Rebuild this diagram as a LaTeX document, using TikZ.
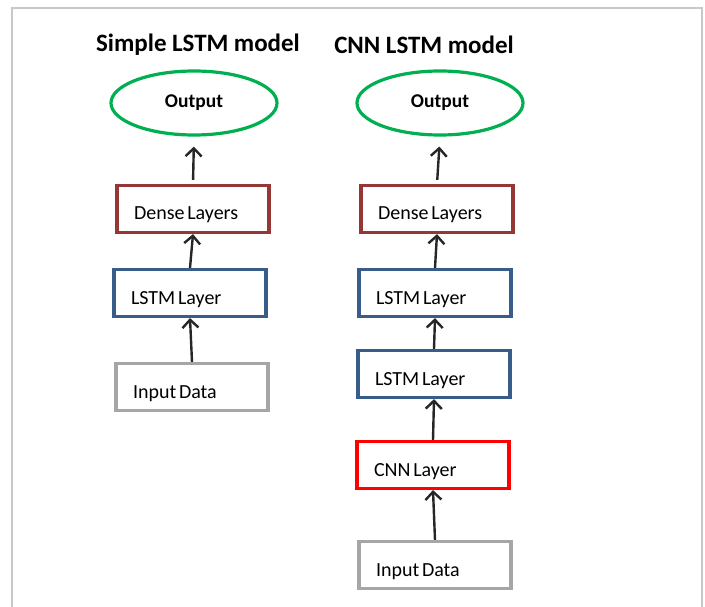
\documentclass[tikz,border=0pt]{standalone}
\usepackage{fontspec}
\setmainfont{Carlito}
\usetikzlibrary{arrows.meta,shapes.geometric}
\definecolor{outgreen}{RGB}{0,176,80}
\definecolor{densered}{RGB}{149,55,53}
\definecolor{lstmblue}{RGB}{56,93,138}
\definecolor{cnnred}{RGB}{255,0,0}
\definecolor{ingray}{RGB}{166,166,166}
\definecolor{arrgray}{RGB}{38,38,38}
\definecolor{framegray}{RGB}{200,200,200}
\newcommand\tightsp{\spaceskip 0.14em\relax}
\newcommand\titlesp{\spaceskip 0.22em\relax}
\tikzset{
  layerbox/.style={draw, line width=3.2pt, rectangle, minimum width=152pt, minimum height=47pt,
    text width=118pt, inner xsep=17pt, align=left, text height=22pt, text depth=0pt,
    font={\fontsize{20}{22}\selectfont}, execute at begin node={\tightsp}},
  outbox/.style={draw=outgreen, line width=3.2pt, ellipse, minimum width=166pt, minimum height=64pt,
    font={\bfseries\fontsize{19.5}{22}\selectfont}},
  titletext/.style={font={\bfseries\fontsize{25}{28}\selectfont\titlesp}},
  arr/.style={draw=arrgray, line width=2.4pt, -{Straight Barb[length=8pt,width=16pt,line width=2.4pt]}}
}
\begin{document}
\begin{tikzpicture}[x=1pt,y=-1pt]
			%%%%% START %%%%%
			\useasboundingbox (0,0) rectangle (705,607);
			\draw[framegray, line width=1.5pt] (12,607) -- (12,8) -- (702,8) -- (702,607);
			
			% simple LSTM model
			\node[titletext] (titleA) at (198,45) {Simple LSTM model};
			\node[outbox] (outA) at (194,103) {Output};
			\node[layerbox, draw=densered] (denseA) at (193,209) {Dense Layers};
			\node[layerbox, draw=lstmblue] (lstmA) at (190,293) {LSTM Layer};
			\node[layerbox, draw=ingray] (inA) at (192,387) {Input Data};
			
			\draw[arr, shorten >=10pt, shorten <=4pt] (denseA.north) -- (outA.south);
			\draw[arr] (lstmA.north) -- (denseA.south);
			\draw[arr] (inA.north) -- (lstmA.south);
			
			% CNN LSTM model
			\node[titletext] (titleB) at (424,45) {CNN LSTM model};
			\node[outbox] (outB) at (440,103) {Output};
			\node[layerbox, draw=densered] (denseB) at (437,209) {Dense Layers};
			\node[layerbox, draw=lstmblue] (lstmB1) at (435,293) {LSTM Layer};
			\node[layerbox, draw=lstmblue] (lstmB2) at (434,374) {LSTM Layer};
			\node[layerbox, draw=cnnred] (cnnB) at (433,465) {CNN Layer};
			\node[layerbox, draw=ingray] (inB) at (435,565) {Input Data};
			
			\draw[arr, shorten >=10pt, shorten <=4pt] (denseB.north) -- (outB.south);
			\draw[arr] (lstmB1.north) -- (denseB.south);
			\draw[arr] (lstmB2.north) -- (lstmB1.south);
			\draw[arr] (cnnB.north) -- (lstmB2.south);
			\draw[arr] (inB.north) -- (cnnB.south);
			%%%%% END %%%%%
\end{tikzpicture}
\end{document}
